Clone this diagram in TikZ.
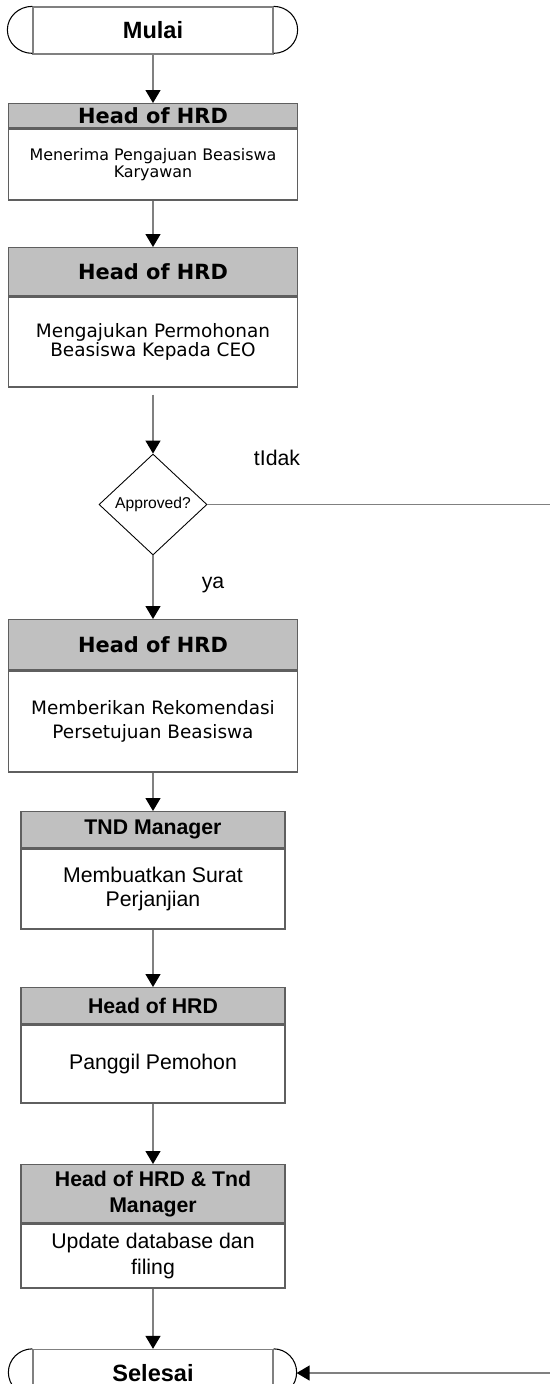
\documentclass[tikz,border=0pt]{standalone}
\usepackage{fontspec}
\usepackage{tikz}
\usetikzlibrary{shapes.geometric,arrows.meta}
\newfontfamily\verdana{DejaVu Sans}
\newfontfamily\arial{Liberation Sans}
\definecolor{linegray}{HTML}{808080}
\definecolor{boxgray}{HTML}{5F5F5F}
\definecolor{headfill}{HTML}{C0C0C0}

\begin{document}
\begin{tikzpicture}[x=0.02cm,y=-0.02cm,
  wide/.style={draw=boxgray, line width=0.75pt, minimum width=5.78cm, inner sep=0pt, align=center},
  narrow/.style={draw=boxgray, line width=0.75pt, minimum width=5.28cm, inner sep=0pt, align=center},
  head/.style={fill=headfill, anchor=north},
  body/.style={fill=white, anchor=north},
  vhead/.style={font=\verdana\bfseries\fontsize{11.9}{14}\selectfont},
  ahead/.style={font=\arial\bfseries\fontsize{12.1}{14.8}\selectfont},
  atext/.style={font=\arial\fontsize{12.1}{14}\selectfont},
  term/.style={draw=linegray, line width=0.75pt, minimum width=4.8cm, minimum height=0.94cm, inner sep=0pt, font=\arial\bfseries\fontsize{13.4}{16}\selectfont},
  decision/.style={diamond, draw=black, line width=0.5pt, minimum width=2.16cm, minimum height=2.02cm, inner sep=0pt, font=\arial\fontsize{8.9}{10}\selectfont},
  flow/.style={draw=linegray, line width=0.75pt, -{Triangle[length=0.26cm,width=0.3cm,color=black]}}]

\useasboundingbox (0,0) rectangle (550,1384);
\clip (0,0) rectangle (550,1384);

% start
\node[term] (start) at (153,30.5) {Mulai};
\draw[black, line width=0.6pt] (start.north west) arc[start angle=90, end angle=270, x radius=0.5cm, y radius=0.47cm];
\draw[black, line width=0.6pt] (start.north east) arc[start angle=90, end angle=-90, x radius=0.48cm, y radius=0.47cm];

\node[wide,head,vhead,minimum height=0.48cm] (h1) at (153,103) {Head of HRD};
\node[wide,body,minimum height=1.42cm,font=\verdana\fontsize{9.05}{9.9}\selectfont] (b1) at (h1.south) {Menerima Pengajuan Beasiswa\\Karyawan};

\node[wide,head,vhead,minimum height=0.96cm] (h2) at (153,247) {Head of HRD};
\node[wide,body,minimum height=1.8cm,font=\verdana\fontsize{10.5}{10.8}\selectfont] (b2) at (h2.south) {Mengajukan Permohonan\\Beasiswa Kepada CEO};

\node[decision] (dec) at (153,504.5) {Approved?};
\node[atext] (nolabel) at (277,457.5) {tIdak};
\node[atext] (yalabel) at (213,585) {ya};

\node[wide,head,vhead,minimum height=1.0cm] (h3) at (153,619) {Head of HRD};
\node[wide,body,minimum height=2.02cm,font=\verdana\fontsize{10.5}{13.6}\selectfont] (b3) at (h3.south) {Memberikan Rekomendasi\\Persetujuan Beasiswa};

\node[narrow,head,ahead,minimum height=0.72cm] (h4) at (153,811) {TND Manager};
\node[narrow,body,atext,minimum height=1.6cm] (b4) at (h4.south) {Membuatkan Surat\\Perjanjian};

\node[narrow,head,ahead,minimum height=0.72cm] (h5) at (153,987) {Head of HRD};
\node[narrow,body,atext,minimum height=1.56cm] (b5) at (h5.south) {Panggil Pemohon};

\node[narrow,head,ahead,minimum height=1.16cm] (h6) at (153,1164) {Head of HRD \& Tnd\\Manager};
\node[narrow,body,atext,minimum height=1.28cm,font=\arial\fontsize{12.1}{14.8}\selectfont] (b6) at (h6.south) {Update database dan\\filing};

% end
\node[term] (end) at (153,1373) {Selesai};
\draw[black, line width=0.6pt] (end.north west) arc[start angle=90, end angle=270, x radius=0.48cm, y radius=0.47cm];
\draw[black, line width=0.6pt] (end.north east) arc[start angle=90, end angle=-90, x radius=0.46cm, y radius=0.47cm];

\draw[flow] (start.south) -- (h1.north);
\draw[flow] (b1.south) -- (h2.north);
\draw[flow, shorten <=0.14cm] (b2.south) -- (dec.north);
\draw[flow] (dec.south) -- (h3.north);
\draw[flow] (b3.south) -- (h4.north);
\draw[flow] (b4.south) -- (h5.north);
\draw[flow] (b5.south) -- (h6.north);
\draw[flow] (b6.south) -- (end.north);

% tidak
\coordinate (noturn) at (560,504.5);
\coordinate (endtip) at ([xshift=0.46cm]end.east);
\draw[flow] (dec.east) -- (noturn) |- (endtip);

\end{tikzpicture}
\end{document}
